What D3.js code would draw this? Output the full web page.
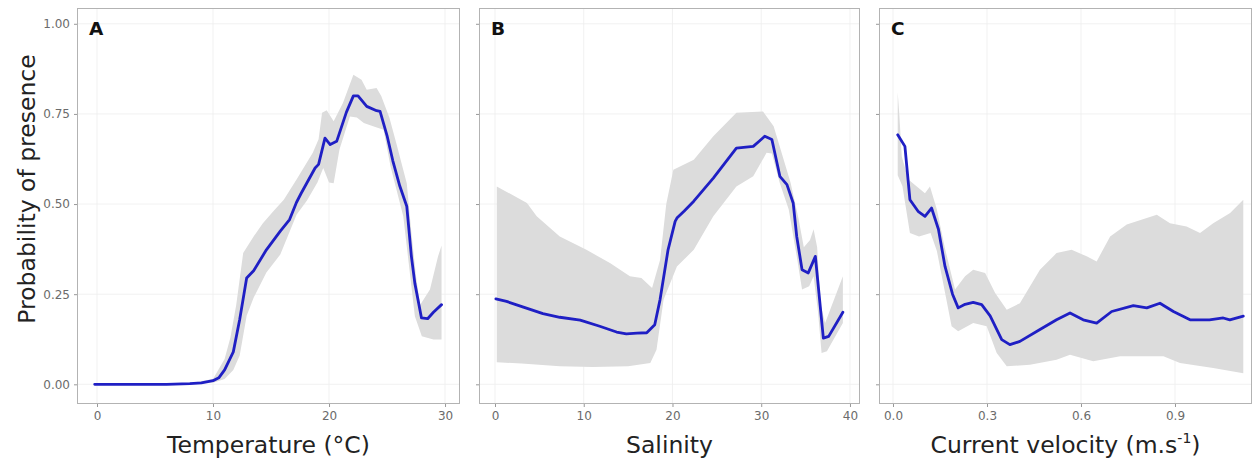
<!DOCTYPE html>
<html>
<head>
<meta charset="utf-8">
<script src="https://cdn.jsdelivr.net/npm/d3@7"></script>
<style>
  html, body { margin: 0; padding: 0; background: #fff; }
  svg { display: block; }
</style>
</head>
<body>
<svg id="chart" width="1253" height="463"></svg>
<script>
// ---------- DATA ----------
// Panel A: Temperature
const tempLineX = [-0.2, 2, 4, 6, 8, 9, 10, 10.5, 11, 11.75, 12.3, 12.9, 13.5, 14.6, 15.8, 16.6, 17.2, 17.6, 18.8, 19.1, 19.65, 20.1, 20.66, 21.5, 22.1, 22.5, 23.25, 24.1, 24.4, 25.0, 25.5, 26.1, 26.7, 27.1, 27.4, 27.97, 28.5, 29.0, 29.7];
const tempLineY = [0, 0, 0, 0, 0.002, 0.004, 0.01, 0.018, 0.04, 0.09, 0.18, 0.295, 0.315, 0.373, 0.425, 0.457, 0.505, 0.53, 0.6, 0.61, 0.683, 0.665, 0.674, 0.755, 0.80, 0.80, 0.771, 0.759, 0.757, 0.69, 0.62, 0.55, 0.494, 0.355, 0.28, 0.184, 0.182, 0.20, 0.221];
const tempHiX = [-0.2, 8, 10, 11, 11.5, 12, 12.6, 13.5, 14.3, 15.2, 16.1, 17.2, 18.6, 19.1, 19.4, 19.8, 20.4, 21.2, 22.1, 22.8, 23.25, 24.1, 24.5, 25.2, 25.8, 26.7, 27.1, 27.5, 27.85, 28.7, 29.4, 29.7];
const tempHiY = [0, 0.003, 0.015, 0.07, 0.13, 0.22, 0.364, 0.41, 0.447, 0.48, 0.512, 0.568, 0.642, 0.68, 0.753, 0.76, 0.73, 0.78, 0.859, 0.845, 0.817, 0.822, 0.80, 0.74, 0.669, 0.558, 0.42, 0.30, 0.22, 0.263, 0.355, 0.385];
const tempLoX = [-0.2, 8, 10, 11, 11.75, 12.3, 12.9, 13.5, 14.6, 15.8, 17.2, 18.1, 19.0, 19.5, 20.0, 20.4, 20.9, 21.8, 22.4, 23.0, 23.8, 24.7, 25.3, 26.4, 27.0, 27.4, 28.0, 29.0, 29.7];
const tempLoY = [0, 0, 0.004, 0.015, 0.04, 0.08, 0.19, 0.24, 0.31, 0.36, 0.47, 0.51, 0.56, 0.6, 0.56, 0.558, 0.651, 0.743, 0.74, 0.725, 0.716, 0.706, 0.605, 0.466, 0.3, 0.189, 0.133, 0.124, 0.124];

// Panel B: Salinity
const salLineX = [0.1, 1.3, 3.2, 5.4, 7.3, 9.6, 11.8, 13.7, 14.8, 16, 17.1, 18.0, 18.6, 19.5, 20.3, 20.5, 21.3, 22.4, 24.6, 27.2, 29.1, 29.8, 30.4, 31.2, 32.1, 32.9, 33.6, 34.0, 34.6, 35.3, 36.1, 37.0, 37.6, 39.2];
const salLineY = [0.237, 0.23, 0.214, 0.196, 0.186, 0.178, 0.161, 0.145, 0.14, 0.142, 0.143, 0.165, 0.235, 0.373, 0.452, 0.461, 0.48, 0.508, 0.572, 0.655, 0.66, 0.675, 0.688, 0.679, 0.577, 0.554, 0.503, 0.41, 0.318, 0.309, 0.355, 0.128, 0.133, 0.20];
const salHiX = [0.2, 3.6, 4.7, 7.3, 10.3, 13, 15.2, 16.5, 17.7, 18.6, 19.3, 20.1, 22.4, 24.6, 27.2, 30.2, 31.4, 33.3, 34.2, 34.8, 35.5, 35.9, 36.3, 36.7, 37.2, 39.2];
const salHiY = [0.549, 0.503, 0.466, 0.41, 0.373, 0.336, 0.30, 0.295, 0.267, 0.345, 0.5, 0.595, 0.623, 0.688, 0.753, 0.757, 0.716, 0.56, 0.46, 0.38, 0.40, 0.43, 0.38, 0.22, 0.17, 0.30];
const salLoX = [0.2, 3, 7.3, 11, 15, 17.5, 18.2, 19.0, 20.5, 22.4, 24.6, 27.2, 29.1, 30.6, 31.2, 32.1, 33.1, 34.0, 34.6, 35.4, 35.9, 36.4, 36.8, 37.4, 39.2];
const salLoY = [0.061, 0.058, 0.05, 0.048, 0.05, 0.059, 0.096, 0.235, 0.327, 0.373, 0.466, 0.549, 0.577, 0.642, 0.64, 0.558, 0.485, 0.355, 0.263, 0.272, 0.3, 0.2, 0.087, 0.092, 0.17];

// Panel C: Current velocity
const velLineX = [0.015, 0.038, 0.054, 0.08, 0.102, 0.123, 0.145, 0.166, 0.19, 0.208, 0.23, 0.256, 0.283, 0.31, 0.347, 0.373, 0.405, 0.469, 0.522, 0.565, 0.607, 0.65, 0.698, 0.767, 0.81, 0.852, 0.895, 0.948, 1.01, 1.054, 1.075, 1.118];
const velLineY = [0.692, 0.66, 0.512, 0.48, 0.466, 0.489, 0.43, 0.327, 0.25, 0.212, 0.222, 0.227, 0.221, 0.19, 0.124, 0.11, 0.119, 0.152, 0.179, 0.198, 0.179, 0.17, 0.202, 0.218, 0.212, 0.225, 0.202, 0.179, 0.179, 0.184, 0.179, 0.189];
const velHiX = [0.015, 0.02, 0.028, 0.049, 0.102, 0.118, 0.14, 0.165, 0.198, 0.23, 0.256, 0.294, 0.326, 0.363, 0.405, 0.469, 0.522, 0.57, 0.618, 0.65, 0.693, 0.746, 0.81, 0.842, 0.884, 0.937, 0.98, 1.022, 1.076, 1.118];
const velHiY = [0.81, 0.75, 0.632, 0.568, 0.53, 0.549, 0.485, 0.38, 0.263, 0.30, 0.318, 0.309, 0.253, 0.207, 0.225, 0.318, 0.364, 0.373, 0.355, 0.341, 0.41, 0.443, 0.461, 0.47, 0.447, 0.438, 0.42, 0.447, 0.475, 0.512];
const velLoX = [0.015, 0.03, 0.054, 0.083, 0.12, 0.14, 0.187, 0.208, 0.256, 0.299, 0.331, 0.363, 0.437, 0.522, 0.565, 0.639, 0.725, 0.863, 0.916, 1.022, 1.118];
const velLoY = [0.58, 0.55, 0.42, 0.41, 0.42, 0.37, 0.161, 0.147, 0.17, 0.161, 0.087, 0.05, 0.054, 0.068, 0.082, 0.064, 0.078, 0.078, 0.059, 0.045, 0.031];

// Tick labels
const yTicks = [0, 0.25, 0.5, 0.75, 1];
const yTickLabels = ["0.00", "0.25", "0.50", "0.75", "1.00"];
const tempTicks = [0, 10, 20, 30];
const salTicks = [0, 10, 20, 30, 40];
const velTicks = [0, 0.3, 0.6, 0.9];
const velTickLabels = ["0.0", "0.3", "0.6", "0.9"];

const yTitle = "Probability of presence";
const panelLetters = ["A", "B", "C"];

// ---------- LAYOUT ----------
const svg = d3.select("#chart");
const plotTop = 8, plotBottom = 404;
const y = d3.scaleLinear().domain([-0.0546, 1.0438]).range([plotBottom, plotTop]);

const panels = [
  { letter: panelLetters[0], left: 77, right: 460, domain: [-1.724, 31.29], ticks: tempTicks, fmt: d => String(d),
    title: "Temperature (°C)", lx: tempLineX, ly: tempLineY, hx: tempHiX, hy: tempHiY, lox: tempLoX, loy: tempLoY, yLabels: true },
  { letter: panelLetters[1], left: 479, right: 860, domain: [-1.803, 41.13], ticks: salTicks, fmt: d => String(d),
    title: "Salinity", lx: salLineX, ly: salLineY, hx: salHiX, hy: salHiY, lox: salLoX, loy: salLoY, yLabels: false },
  { letter: panelLetters[2], left: 879, right: 1252, domain: [-0.0447, 1.1458], ticks: velTicks, fmt: (d, i) => velTickLabels[i],
    title: null, lx: velLineX, ly: velLineY, hx: velHiX, hy: velHiY, lox: velLoX, loy: velLoY, yLabels: false }
];

const font = "'DejaVu Sans', 'Open Sans', sans-serif";
const titleSize = 23.5;

panels.forEach((p, pi) => {
  const x = d3.scaleLinear().domain(p.domain).range([p.left, p.right]);
  const g = svg.append("g");

  // grid
  g.selectAll("line.vg").data(p.ticks).join("line")
    .attr("x1", d => x(d)).attr("x2", d => x(d))
    .attr("y1", plotTop).attr("y2", plotBottom)
    .attr("stroke", "#eeeeee").attr("stroke-width", 0.8);
  g.selectAll("line.hg").data(yTicks).join("line")
    .attr("x1", p.left).attr("x2", p.right)
    .attr("y1", d => y(d)).attr("y2", d => y(d))
    .attr("stroke", "#eeeeee").attr("stroke-width", 0.8);

  // ribbon
  const upper = p.hx.map((v, i) => [v, p.hy[i]]);
  const lower = p.lox.map((v, i) => [v, p.loy[i]]).reverse();
  const poly = d3.line().x(d => x(d[0])).y(d => y(d[1]));
  g.append("path")
    .attr("d", poly(upper.concat(lower)) + "Z")
    .attr("fill", "#dcdcdc").attr("stroke", "none");

  // line
  const pts = p.lx.map((v, i) => [v, p.ly[i]]);
  g.append("path")
    .attr("d", poly(pts))
    .attr("fill", "none").attr("stroke", "#1f1fc4")
    .attr("stroke-width", 2.8).attr("stroke-linejoin", "round").attr("stroke-linecap", "round");

  // border
  g.append("rect")
    .attr("x", p.left + 0.5).attr("y", plotTop + 0.5)
    .attr("width", p.right - p.left - 1).attr("height", plotBottom - plotTop - 1)
    .attr("fill", "none").attr("stroke", "#b3b3b3").attr("stroke-width", 1);

  // x axis
  const xAxis = d3.axisBottom(x).tickValues(p.ticks).tickFormat(p.fmt).tickSize(3).tickPadding(4);
  const xg = g.append("g").attr("transform", `translate(0,${plotBottom})`).call(xAxis);
  xg.select(".domain").remove();
  xg.selectAll(".tick line").attr("stroke", "#999");
  xg.selectAll(".tick text").attr("fill", "#6b6b6b").attr("font-size", 12).attr("font-family", font);

  // y axis
  const yAxis = d3.axisLeft(y).tickValues(yTicks)
    .tickFormat((d, i) => p.yLabels ? yTickLabels[i] : "").tickSize(3).tickPadding(4);
  const yg = g.append("g").attr("transform", `translate(${p.left},0)`).call(yAxis);
  yg.select(".domain").remove();
  yg.selectAll(".tick line").attr("stroke", "#999");
  yg.selectAll(".tick text").attr("fill", "#6b6b6b").attr("font-size", 12).attr("font-family", font);

  // panel letter
  g.append("text")
    .attr("x", p.left + 12).attr("y", 35)
    .attr("font-family", "'DejaVu Sans', sans-serif")
    .attr("font-weight", "bold").attr("font-size", 18.5).attr("fill", "#111")
    .text(p.letter);

  // x title
  const cx = (p.left + p.right) / 2;
  const t = g.append("text")
    .attr("x", cx).attr("y", 453)
    .attr("text-anchor", "middle")
    .attr("font-family", font).attr("font-size", titleSize).attr("fill", "#222");
  if (p.title) {
    t.text(p.title);
  } else {
    t.append("tspan").text("Current velocity (m.s");
    t.append("tspan").attr("font-size", 14).attr("dy", -10).text("-1");
    t.append("tspan").attr("dy", 10).text(")");
  }
});

// y title
svg.append("text")
  .attr("transform", "translate(35,189) rotate(-90)")
  .attr("text-anchor", "middle")
  .attr("font-family", font).attr("font-size", titleSize).attr("fill", "#222")
  .text(yTitle);
</script>
</body>
</html>
